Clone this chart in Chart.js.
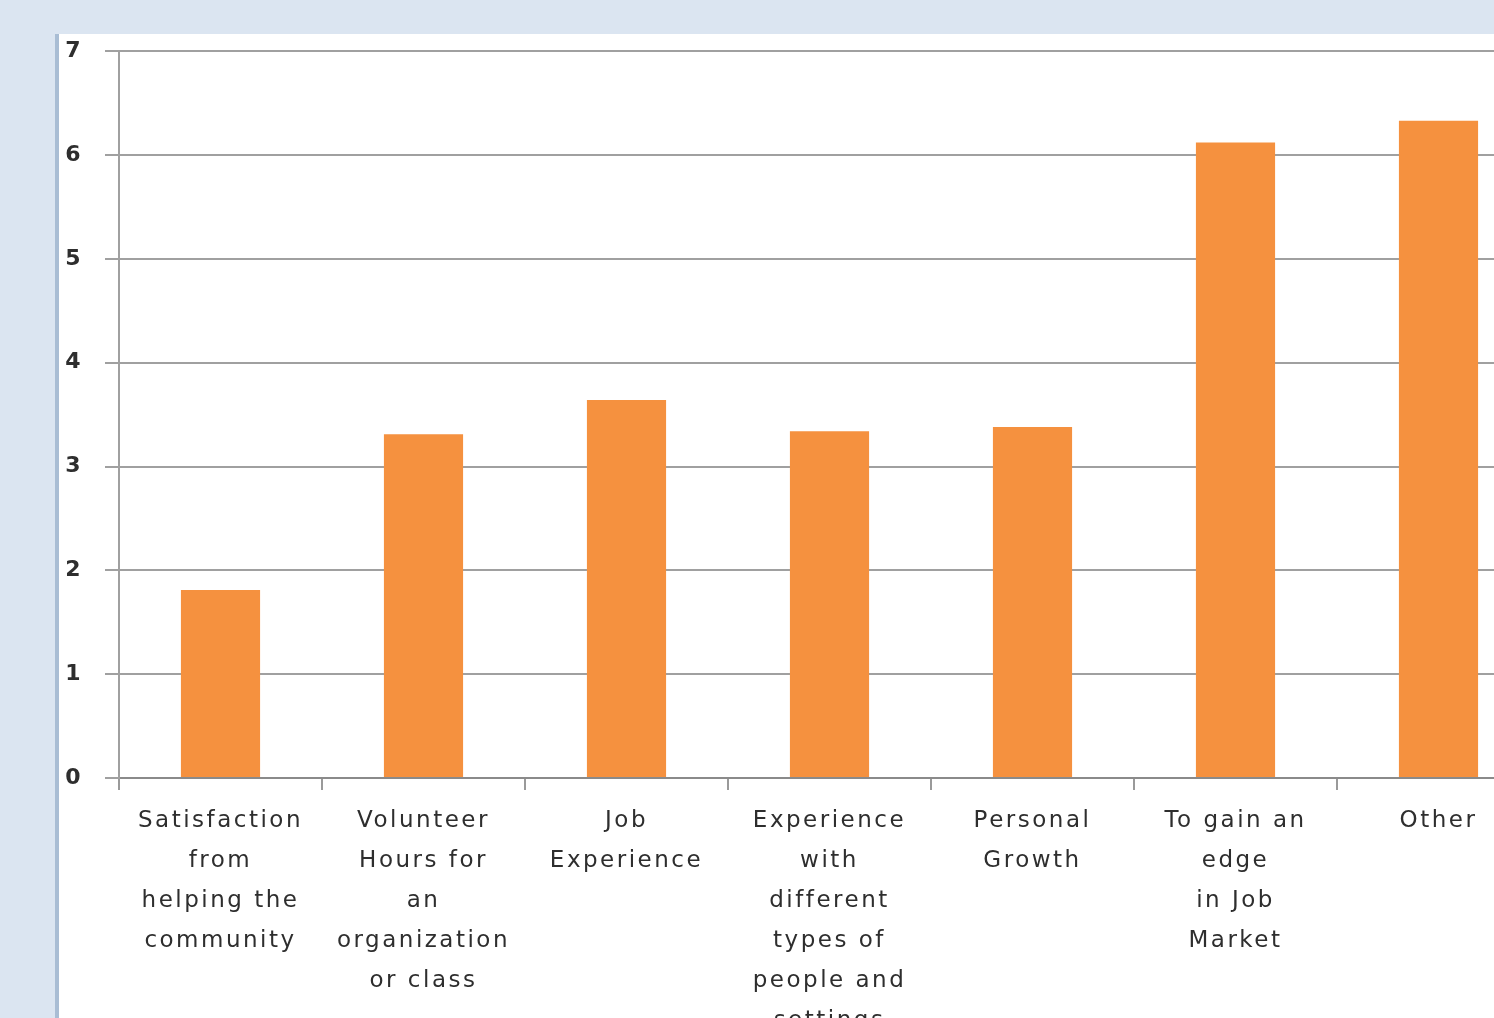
<!DOCTYPE html>
<html>
<head>
<meta charset="utf-8">
<script src="https://cdn.jsdelivr.net/npm/chart.js@4"></script>
<style>
  html, body { margin:0; padding:0; width:1494px; height:1018px; overflow:hidden; background:#dbe5f1; }
  #panel { position:absolute; left:55px; top:34px; width:1600px; height:1100px; background:#ffffff; border-left:4px solid #a9bdd4; }
  canvas { position:absolute; left:0; top:-18px; }
</style>
</head>
<body>
<div id="panel"><canvas id="c" width="1600" height="1100"></canvas></div>
<script>
const categories = [
  ["Satisfaction", "from", "helping the", "community"],
  ["Volunteer", "Hours for", "an", "organization", "or class"],
  ["Job", "Experience"],
  ["Experience", "with", "different", "types of", "people and", "settings"],
  ["Personal", "Growth"],
  ["To gain an", "edge", "in Job", "Market"],
  ["Other"]
];
const values = [1.81, 3.31, 3.64, 3.34, 3.38, 6.12, 6.33];
const yTicks = [0, 1, 2, 3, 4, 5, 6, 7];

const spacing = {
  id: 'spacing',
  beforeInit(chart) { chart.ctx.letterSpacing = '2.5px'; },
  beforeUpdate(chart) { chart.ctx.letterSpacing = '2.5px'; },
  beforeDraw(chart) { chart.ctx.letterSpacing = '2.5px'; }
};

new Chart(document.getElementById('c'), {
  type: 'bar',
  data: {
    labels: categories,
    datasets: [{
      data: values,
      backgroundColor: '#f5913f',
      borderWidth: 0,
      categoryPercentage: 1.0,
      barPercentage: 0.39
    }]
  },
  options: {
    responsive: false,
    animation: false,
    events: [],
    layout: { padding: { top: 0, right: 119, left: 0, bottom: 0 } },
    plugins: { legend: { display: false }, tooltip: { enabled: false } },
    scales: {
      x: {
        offset: true,
        grid: { display: true, drawOnChartArea: false, offset: true, tickLength: 12, color: '#9a9a9a', lineWidth: 2 },
        border: { display: true, color: '#8a8a8a', width: 2 },
        ticks: {
          maxRotation: 0, minRotation: 0, autoSkip: false, padding: 11,
          color: '#2e2e2e',
          font: { family: 'DejaVu Sans', size: 23, lineHeight: 1.74 }
        },
        afterFit(scale) { scale.height = 338; }
      },
      y: {
        min: 0, max: 7,
        afterBuildTicks(scale) { scale.ticks = yTicks.map(v => ({ value: v })); },
        grid: { color: '#a0a0a0', lineWidth: 2, tickLength: 14 },
        border: { display: true, color: '#a0a0a0', width: 2 },
        ticks: {
          padding: 22, color: '#2e2e2e',
          font: { family: 'DejaVu Sans', size: 22, weight: 'bold' }
        },
        afterFit(scale) { scale.width = 60; }
      }
    }
  },
  plugins: [spacing]
});
</script>
</body>
</html>
